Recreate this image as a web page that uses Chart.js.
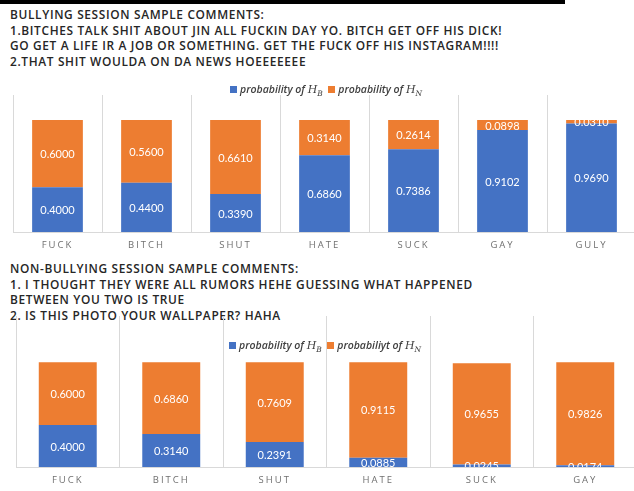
<!DOCTYPE html>
<html lang="en">
  <head>
    <meta charset="UTF-8" />
    <title>Bullying vs non-bullying word probabilities</title>
    <script src="https://cdn.jsdelivr.net/npm/chart.js"></script>
    <style>
      html, body { margin: 0; padding: 0; background: #fff; overflow: hidden; }
      body { width: 634px; height: 491px; position: relative; }
      .topbar { position: absolute; left: 0; top: 0; width: 565px; height: 4px; background: #000; }
      .notes {
        position: absolute; left: 10px; margin: 0;
        font-family: "Open Sans", sans-serif; font-weight: 600; font-size: 11.9px;
        letter-spacing: 0.65px; line-height: 15.6px; color: #262626; white-space: pre;
      }
      .legend {
        position: absolute; font-family: "Open Sans", sans-serif; font-style: italic; font-weight: 600;
        font-size: 10.5px; color: #404040; white-space: nowrap; z-index: 2;
      }
      .legend .sw { display: inline-block; width: 7px; height: 7px; margin-right: 3px; vertical-align: 0px; }
      .legend .h { font-family: "DejaVu Serif", serif; font-weight: 400; font-size: 11px; }
      .legend sub { font-size: 7.5px; font-family: "DejaVu Serif", serif; }
      .wrap { position: absolute; left: 0; width: 640px; }
    </style>
  </head>
  <body>
    <div class="topbar"></div>
    <p class="notes" style="top: 7px">BULLYING SESSION SAMPLE COMMENTS:
1.BITCHES TALK SHIT ABOUT JIN ALL FUCKIN DAY YO. BITCH GET OFF HIS DICK!
GO GET A LIFE IR A JOB OR SOMETHING. GET THE FUCK OFF HIS INSTAGRAM!!!!
2.THAT SHIT WOULDA ON DA NEWS HOEEEEEEE</p>

    <div class="wrap" style="top: 90px; height: 170px">
      <canvas id="bullyChart" width="640" height="170"></canvas>
    </div>
    <div class="legend" style="left: 230px; top: 82px">
      <span class="sw" style="background:#4472c4"></span>probability of <span class="h">H<sub>B</sub></span>
      &nbsp;<span class="sw" style="background:#ed7d31"></span>probability of <span class="h">H<sub>N</sub></span>
    </div>

    <p class="notes" style="top: 261px">NON-BULLYING SESSION SAMPLE COMMENTS:
1. I THOUGHT THEY WERE ALL RUMORS HEHE GUESSING WHAT HAPPENED
BETWEEN YOU TWO IS TRUE
2. IS THIS PHOTO YOUR WALLPAPER? HAHA</p>

    <div class="wrap" style="top: 310px; height: 181px">
      <canvas id="normalChart" width="640" height="181"></canvas>
    </div>
    <div class="legend" style="left: 229px; top: 338px">
      <span class="sw" style="background:#4472c4"></span>probability of <span class="h">H<sub>B</sub></span>
      &nbsp;<span class="sw" style="background:#ed7d31"></span>probabiliyt of <span class="h">H<sub>N</sub></span>
    </div>

    <script>
      // bullying session
      var bullyWords = ["FUCK", "BITCH", "SHUT", "HATE", "SUCK", "GAY", "GULY"];
      var bullyHB = [0.4, 0.44, 0.339, 0.686, 0.7386, 0.9102, 0.969];
      var bullyHN = [0.6, 0.56, 0.661, 0.314, 0.2614, 0.0898, 0.031];

      // non-bullying session
      var normalWords = ["FUCK", "BITCH", "SHUT", "HATE", "SUCK", "GAY"];
      var normalHB = [0.4, 0.314, 0.2391, 0.0885, 0.0245, 0.0174];
      var normalHN = [0.6, 0.686, 0.7609, 0.9115, 0.9655, 0.9826];

      var BLUE = "#4472c4";
      var ORANGE = "#ed7d31";
      var GRID = "#d9d9d9";

      // white value labels, clipped to the 0..1 band like the original
      var valueLabels = {
        id: "valueLabels",
        beforeDraw: function (chart) {
          chart.ctx.letterSpacing = "2px";
        },
        beforeDatasetsDraw: function (chart) {
          chart.ctx.letterSpacing = "0px";
        },
        afterDatasetsDraw: function (chart) {
          var ctx = chart.ctx;
          var y = chart.scales.y;
          var top = y.getPixelForValue(1);
          var bottom = y.getPixelForValue(0);
          ctx.save();
          ctx.beginPath();
          ctx.rect(chart.chartArea.left, top, chart.chartArea.right - chart.chartArea.left, bottom - top);
          ctx.clip();
          ctx.fillStyle = "#fff";
          ctx.font = "11px Lato, sans-serif";
          ctx.textAlign = "center";
          ctx.textBaseline = "middle";
          chart.data.datasets.forEach(function (ds, i) {
            chart.getDatasetMeta(i).data.forEach(function (bar, j) {
              ctx.fillText(ds.data[j].toFixed(4), bar.x, (bar.y + bar.base) / 2 + 1);
            });
          });
          ctx.restore();
        },
      };

      function makeChart(id, words, hb, hn, yMax, pad, axisH, barPct) {
        return new Chart(document.getElementById(id), {
          type: "bar",
          data: {
            labels: words,
            datasets: [
              { label: "HB", data: hb, backgroundColor: BLUE, barPercentage: barPct, categoryPercentage: 1 },
              { label: "HN", data: hn, backgroundColor: ORANGE, barPercentage: barPct, categoryPercentage: 1 },
            ],
          },
          options: {
            responsive: false,
            animation: false,
            layout: { padding: pad },
            plugins: { legend: { display: false }, tooltip: { enabled: false } },
            scales: {
              x: {
                stacked: true,
                grid: { offset: true, color: GRID, drawTicks: false },
                border: { color: GRID },
                ticks: { color: "#707070", font: { family: "Open Sans", size: 9.5 }, padding: 8 },
                afterFit: function (s) { s.height = axisH; },
              },
              y: { stacked: true, display: false, min: 0, max: yMax },
            },
          },
          plugins: [valueLabels],
        });
      }

      makeChart("bullyChart", bullyWords, bullyHB, bullyHN, 1.223,
        { top: 5, left: 13, right: 4, bottom: 0 }, 28, 0.57);
      makeChart("normalChart", normalWords, normalHB, normalHN, 1.44,
        { top: 6, left: 16, right: 3, bottom: 0 }, 24, 0.56);
    </script>
  </body>
</html>
